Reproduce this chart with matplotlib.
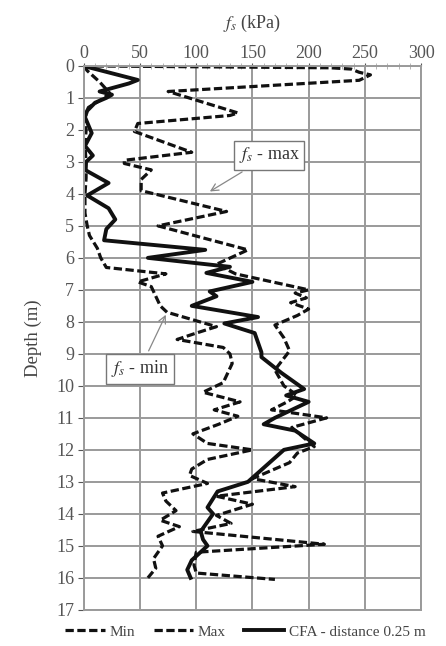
import numpy as np
import matplotlib.pyplot as plt
from matplotlib.ticker import MultipleLocator

plt.rcParams['font.family'] = ['Liberation Serif', 'DejaVu Serif']
plt.rcParams['mathtext.fontset'] = 'stix'

# depth (m) and unit shaft friction fs (kPa)
min_depth = [0, 0.15, 0.5, 0.85, 1.0, 1.3, 1.6, 2.0, 2.5, 3.0, 3.5, 4.0, 4.6, 5.0, 5.3,
             5.7, 6.0, 6.3, 6.5, 6.75, 6.9, 7.2, 7.5, 7.7, 8.15, 8.35, 8.55, 8.8, 9.0,
             9.3, 9.9, 10.2, 10.5, 10.75, 10.95, 11.2, 11.5, 11.8, 12.0, 12.3, 12.6,
             12.8, 13.05, 13.35, 13.6, 13.9, 14.2, 14.4, 14.7, 15.0, 15.4, 15.7, 16.0]
min_fs = [0, 3, 14, 23, 18, 4, 1, 2, 1, 2, 2, 1, 1, 3, 5,
          12, 15, 20, 73, 48, 60, 64, 68, 74, 118, 100, 83, 124, 130,
          132, 124, 106, 139, 116, 137, 120, 97, 110, 150, 110, 96,
          94, 110, 70, 73, 82, 68, 85, 66, 70, 62, 64, 57]

max_depth = [0, 0.06, 0.1, 0.2, 0.28, 0.45, 0.8, 1.47, 1.55, 1.8, 2.05, 2.7, 2.95,
             3.05, 3.25, 3.55, 3.9, 4.55, 5.0, 5.75, 6.2, 6.5, 7.0, 7.1, 7.25, 7.4,
             7.6, 7.8, 8.1, 8.5, 8.9, 9.0, 9.5, 10.0, 10.3, 10.5, 10.75, 11.0, 11.3,
             11.6, 11.9, 12.1, 12.4, 12.9, 13.15, 13.45, 13.7, 14.05, 14.3, 14.55,
             14.95, 15.2, 15.6, 15.85, 16.05]
max_fs = [0, 220, 238, 245, 255, 245, 75, 137, 130, 48, 45, 96, 36,
          36, 60, 51, 51, 127, 66, 146, 118, 135, 200, 188, 198, 184,
          200, 190, 170, 178, 183, 181, 170, 178, 190, 181, 167, 216, 185,
          195, 205, 190, 183, 150, 188, 118, 150, 118, 131, 97,
          214, 100, 98, 100, 170]

cfa_depth = [0, 0.05, 0.44, 0.55, 0.8, 0.9, 1.0, 1.15, 1.4, 1.6, 2.1, 2.5, 2.8, 3.0,
             3.25, 3.66, 4.05, 4.45, 4.8, 5.1, 5.45, 5.75, 6.0, 6.28, 6.47, 6.75,
             7.05, 7.2, 7.5, 7.85, 8.05, 8.35, 8.95, 9.1, 9.6, 10.1, 10.3, 10.5,
             11.0, 11.2, 11.4, 11.8, 12.0, 12.25, 13.0, 13.3, 13.8, 14.0, 14.55,
             14.8, 15.0, 15.45, 15.75, 16.0]
cfa_fs = [0, 5, 48, 40, 14, 25, 20, 10, 3, 1, 7, 1, 8, 2,
          1, 22, 3, 22, 28, 20, 18, 108, 57, 130, 109, 150,
          112, 118, 96, 155, 125, 152, 158, 158, 176, 196, 180, 200,
          170, 160, 188, 205, 178, 170, 146, 119, 110, 115, 104,
          106, 110, 96, 92, 95]

fig, ax = plt.subplots(figsize=(4.46, 6.46), dpi=100)
fig.subplots_adjust(left=0.188, right=0.944, top=0.898, bottom=0.056)

dash = (0, (2.6, 1.1))
ax.plot(min_fs, min_depth, color='#111111', linestyle=dash, linewidth=2.3, label='Min')
ax.plot(max_fs, max_depth, color='#111111', linestyle=dash, linewidth=2.3, label='Max')
ax.plot(cfa_fs, cfa_depth, color='#111111', linewidth=2.8, label='CFA - distance 0.25 m')

ax.set_xlim(0, 300)
ax.set_ylim(17, 0)
ax.xaxis.tick_top()
ax.xaxis.set_label_position('top')
ax.set_xticks(np.arange(0, 301, 50))
ax.set_yticks(np.arange(0, 18, 1))
ax.xaxis.set_minor_locator(MultipleLocator(10))
ax.tick_params(axis='x', which='major', labelsize=13, colors='#555555', length=2, pad=1)
ax.tick_params(axis='x', which='minor', direction='inout', length=4, colors='#aaaaaa')
ax.tick_params(axis='y', labelsize=13, colors='#555555', length=4, pad=3)
ax.set_xlabel(r'$f_s$ (kPa)', fontsize=13, color='#444444', labelpad=12)
ax.set_ylabel('Depth (m)', fontsize=13.5, color='#444444', labelpad=10)
ax.grid(True, which='major', color='#9a9a9a', linewidth=1.4)
ax.set_axisbelow(True)
for s in ax.spines.values():
    s.set_color('#9a9a9a')
    s.set_linewidth(1.4)

box = dict(boxstyle='square,pad=0.25', facecolor='white', edgecolor='#777777', linewidth=1.0)
arrow = dict(arrowstyle='->', color='#888888', linewidth=0.9)
ax.annotate(r'$f_s$ - max', xy=(110, 3.97), xytext=(165, 2.8), fontsize=13, color='#333333',
            ha='center', va='center', bbox=box, arrowprops=arrow)
ax.annotate(r'$f_s$ - min', xy=(74, 7.7), xytext=(50, 9.47), fontsize=13, color='#333333',
            ha='center', va='center', bbox=box, arrowprops=arrow)

fig.legend(loc='lower center', bbox_to_anchor=(0.55, -0.01), ncol=3, frameon=False,
           fontsize=11, handlelength=2.6, handletextpad=0.3, columnspacing=1.2,
           labelcolor='#444444')

plt.savefig('out.png', dpi=100)
